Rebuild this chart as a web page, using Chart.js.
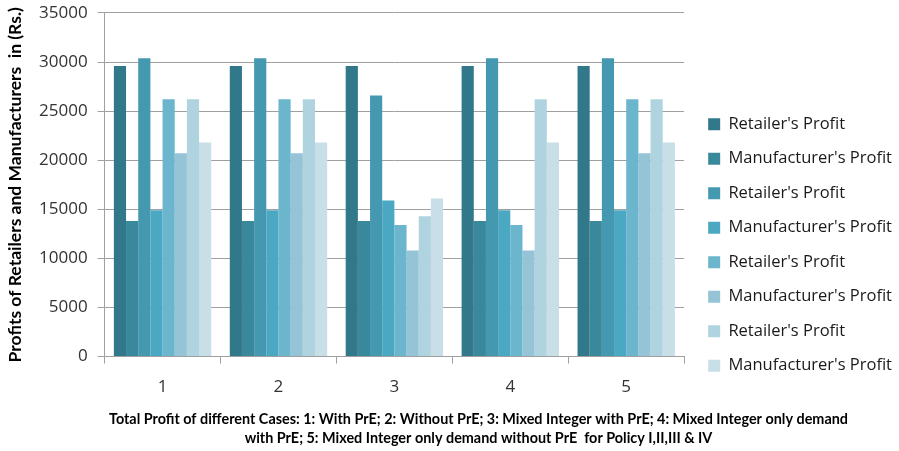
<!DOCTYPE html>
<html lang="en">
<head>
  <meta charset="UTF-8" />
  <title>Profits of Retailers and Manufacturers</title>
  <script src="https://cdn.jsdelivr.net/npm/chart.js"></script>
  <style>
    html, body { margin: 0; padding: 0; background: #fff; }
  </style>
</head>
<body>
  <canvas id="profitChart" width="899" height="451"></canvas>

  <script>
    // cases 1..5, one pair of bars (retailer / manufacturer) per policy
    const cases = ['1', '2', '3', '4', '5']
    const retailerP1 = [29600, 29600, 29600, 29600, 29600]
    const manufacturerP1 = [13800, 13800, 13800, 13800, 13800]
    const retailerP2 = [30400, 30400, 26600, 30400, 30400]
    const manufacturerP2 = [14900, 14900, 15900, 14900, 14900]
    const retailerP3 = [26200, 26200, 13400, 13400, 26200]
    const manufacturerP3 = [20700, 20700, 10800, 10800, 20700]
    const retailerP4 = [26200, 26200, 14300, 26200, 26200]
    const manufacturerP4 = [21800, 21800, 16100, 21800, 21800]
    const yTicks = [0, 5000, 10000, 15000, 20000, 25000, 30000, 35000]

    const seriesLabels = [
      "Retailer's Profit", "Manufacturer's Profit",
      "Retailer's Profit", "Manufacturer's Profit",
      "Retailer's Profit", "Manufacturer's Profit",
      "Retailer's Profit", "Manufacturer's Profit"
    ]
    const series = [
      retailerP1, manufacturerP1, retailerP2, manufacturerP2,
      retailerP3, manufacturerP3, retailerP4, manufacturerP4
    ]
    const colors = [
      '#31788a', '#3a889b', '#4499b0', '#4ba8c2',
      '#6bb6cd', '#94c4d6', '#b0d3e0', '#c8dfe7'
    ]

    // legend column sits lower than centre, caption is a bit right of centre
    const nudge = {
      id: 'nudge',
      afterLayout(chart) {
        const lg = chart.legend
        lg.top += 20
        lg.bottom += 20
        lg.left += 6
        lg.right += 6
        const t = chart.titleBlock
        t.left += 28
        t.right += 28
      }
    }

    const gridGray = '#a0a0a0'
    const tickColor = '#333333'

    new Chart(document.getElementById('profitChart'), {
      type: 'bar',
      data: {
        labels: cases,
        datasets: series.map((data, i) => ({
          label: seriesLabels[i],
          data: data,
          backgroundColor: colors[i],
          borderWidth: 0,
          barPercentage: 1,
          categoryPercentage: 0.84
        }))
      },
      options: {
        responsive: false,
        animation: false,
        layout: { padding: { left: 5, right: 3, top: 0, bottom: 1 } },
        plugins: {
          tooltip: { enabled: false },
          legend: {
            position: 'right',
            labels: {
              boxWidth: 12,
              boxHeight: 12,
              padding: 18,
              color: '#1a1a1a',
              font: { family: 'Open Sans', size: 16.5 }
            }
          },
          title: {
            display: true,
            position: 'bottom',
            color: '#000',
            text: [
              'Total Profit of different Cases: 1: With PrE; 2: Without PrE; 3: Mixed Integer with PrE; 4: Mixed Integer only demand',
              'with PrE; 5: Mixed Integer only demand without PrE  for Policy I,II,III & IV'
            ],
            font: { family: 'Lato', size: 14.4, weight: 'bold', lineHeight: 1.32 },
            padding: { top: 0, bottom: 2 }
          }
        },
        scales: {
          x: {
            grid: {
              display: true,
              drawOnChartArea: false,
              drawTicks: true,
              tickLength: 7,
              color: gridGray,
              offset: true
            },
            border: { color: gridGray },
            ticks: {
              color: tickColor,
              padding: 13,
              font: { family: 'Open Sans', size: 17 }
            }
          },
          y: {
            min: 0,
            max: 35000,
            afterBuildTicks(axis) {
              axis.ticks = yTicks.map(v => ({ value: v }))
            },
            grid: {
              color: gridGray,
              tickLength: 7
            },
            border: { color: gridGray },
            ticks: {
              color: tickColor,
              padding: 10,
              font: { family: 'Open Sans', size: 17, lineHeight: 0.35 },
              callback: v => String(v)
            },
            title: {
              display: true,
              text: 'Profits of Retailers and Manufacturers  in (Rs.)',
              color: '#000',
              font: { family: 'Lato', size: 17.5, weight: 'bold' },
              padding: { top: 0, bottom: 3 }
            }
          }
        }
      },
      plugins: [nudge]
    })
  </script>
</body>
</html>
